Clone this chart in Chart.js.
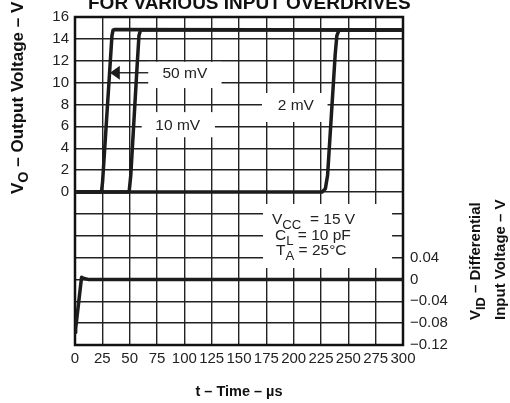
<!DOCTYPE html>
<html>
<head>
<meta charset="utf-8">
<script src="https://cdn.jsdelivr.net/npm/chart.js@4.4.1/dist/chart.umd.min.js"></script>
<style>
	html, body { margin: 0; padding: 0; background: #fff; }
	#wrap { width: 510px; height: 403px; }
</style>
</head>
<body>
<div id="wrap"><canvas id="chart" width="510" height="403"></canvas></div>
<script>
'use strict'
/*----- data (time in µs, VO in V, VID in V) -----*/
const timeTicks = [0, 25, 50, 75, 100, 125, 150, 175, 200, 225, 250, 275, 300];
const voTicks = [0, 2, 4, 6, 8, 10, 12, 14, 16];
const vidTicks = [0.04, 0, -0.04, -0.08, -0.12];

const t50mV = [0, 24.2, 25.2, 33.8, 34.8, 36, 300];
const vo50mV = [0, 0, 0.9, 14.3, 14.8, 14.85, 14.8];

const t10mV = [0, 49.5, 51, 56.5, 58.5, 60, 300];
const vo10mV = [0, 0, 1.5, 11, 14.3, 14.8, 14.8];

const t2mV = [0, 226, 229, 231, 238, 239.5, 241.5, 300];
const vo2mV = [0, 0, 0.3, 1.5, 12.6, 14.3, 14.8, 14.8];

const tVid = [0, 0.6, 6, 7.5, 12, 300];
const vid = [-0.097, -0.09, 0.004, 0.002, 0, 0];

const FONT = '"Liberation Sans", Arial, Helvetica, sans-serif';
const INK = '#1c1c1c';

function pts(xs, ys) {
	return xs.map(function(x, i) { return { x: x, y: ys[i] }; });
}

function line(xs, ys, axis) {
	return {
		data: pts(xs, ys),
		yAxisID: axis,
		borderColor: INK,
		borderWidth: 3.5,
		pointRadius: 0,
		tension: 0,
		fill: false,
		borderJoinStyle: 'round',
		borderCapStyle: 'round'
	};
}

// text with subscript parts: [[text, isSub], ...]
function richText(ctx, parts, x, y, size, bold) {
	var cx = x;
	parts.forEach(function(p) {
		var fs = p[1] ? size * 0.85 : size;
		ctx.font = (bold ? 'bold ' : '') + fs + 'px ' + FONT;
		ctx.fillText(p[0], cx, y + (p[1] ? size * 0.32 : 0));
		cx += ctx.measureText(p[0]).width;
	});
}

/*----- boxes, labels, frame -----*/
const decor = {
	id: 'decor',
	beforeDatasetsDraw: function(chart) {
		var ctx = chart.ctx, xs = chart.scales.x, ys = chart.scales.y, a = chart.chartArea;
		var X = function(v) { return xs.getPixelForValue(v); };
		var Y = function(v) { return ys.getPixelForValue(v); };
		ctx.save();
		ctx.fillStyle = '#fff';
		// white label boxes (data units)
		[[67, 11.9, 134, 9.5], [61, 7.3, 128, 5.0], [171, 9.05, 231, 6.4], [172, -1.1, 290, -6.96]].forEach(function(b) {
			ctx.fillRect(X(b[0]), Y(b[1]), X(b[2]) - X(b[0]), Y(b[3]) - Y(b[1]));
		});
		// frame
		ctx.strokeStyle = '#111';
		ctx.lineWidth = 2.5;
		ctx.strokeRect(a.left, a.top, a.right - a.left, a.bottom - a.top);
		// arrow to 50 mV trace
		ctx.lineWidth = 1.3;
		ctx.beginPath();
		ctx.moveTo(X(67), Y(10.9));
		ctx.lineTo(X(40), Y(10.9));
		ctx.stroke();
		ctx.fillStyle = INK;
		ctx.beginPath();
		ctx.moveTo(X(32), Y(10.9));
		ctx.lineTo(X(41), Y(10.9) - 7);
		ctx.lineTo(X(41), Y(10.9) + 7);
		ctx.closePath();
		ctx.fill();
		// labels
		ctx.fillStyle = '#222';
		ctx.textBaseline = 'middle';
		ctx.textAlign = 'center';
		ctx.font = '15.5px ' + FONT;
		ctx.fillText('50 mV', X(100.5), Y(10.85));
		ctx.fillText('10 mV', X(94), Y(6.1));
		ctx.fillText('2 mV', X(202), Y(7.9));
		ctx.textAlign = 'left';
		ctx.textBaseline = 'alphabetic';
		richText(ctx, [['V', 0], ['CC', 1], ['  = 15 V', 0]], 272, 224, 15.5, false);
		richText(ctx, [['C', 0], ['L', 1], [' = 10 pF', 0]], 275, 240, 15.5, false);
		richText(ctx, [['T', 0], ['A', 1], [' = 25°C', 0]], 276, 255, 15.5, false);
		ctx.restore();
	},
	afterDraw: function(chart) {
		var ctx = chart.ctx;
		ctx.save();
		ctx.fillStyle = '#111';
		ctx.textAlign = 'left';
		ctx.textBaseline = 'alphabetic';
		// main title (cut at the top edge, as in the source)
		ctx.font = 'bold 19px ' + FONT;
		ctx.fillText('FOR VARIOUS INPUT OVERDRIVES', 88, 9);
		// left axis title
		ctx.save();
		ctx.translate(23, 194);
		ctx.rotate(-Math.PI / 2);
		richText(ctx, [['V', 0], ['O', 1], [' – Output Voltage – V', 0]], 0, 0, 17, true);
		ctx.restore();
		// right axis title
		ctx.save();
		ctx.translate(480, 320);
		ctx.rotate(-Math.PI / 2);
		richText(ctx, [['V', 0], ['ID', 1], [' – Differential', 0]], 0, 0, 15, true);
		ctx.restore();
		ctx.save();
		ctx.translate(505, 320);
		ctx.rotate(-Math.PI / 2);
		richText(ctx, [['Input Voltage – V', 0]], 0, 0, 15, true);
		ctx.restore();
		ctx.restore();
	}
};

function fmtVid(v) {
	if (Math.abs(v) < 1e-9) return '0';
	var s = Math.abs(v).toFixed(2);
	return (v < 0 ? '\u2212' : '') + s;
}

var ctx = document.getElementById('chart');
var myChart = new Chart(ctx, {
	type: 'line',
	data: {
		datasets: [
			line(t50mV, vo50mV, 'y'),
			line(t10mV, vo10mV, 'y'),
			line(t2mV, vo2mV, 'y'),
			line(tVid, vid, 'y2')
		]
	},
	options: {
		responsive: false,
		animation: false,
		devicePixelRatio: 1,
		layout: { padding: { top: 17 } },
		plugins: { legend: { display: false }, tooltip: { enabled: false } },
		scales: {
			x: {
				type: 'linear',
				min: 0,
				max: 300,
				afterFit: function(s) { s.height = 58; },
				grid: { color: '#222', lineWidth: 1.4, drawTicks: false },
				border: { display: false },
				ticks: {
					stepSize: 25,
					autoSkip: false,
					maxRotation: 0,
					padding: 5,
					color: '#222',
					font: { size: 15, family: FONT },
					callback: function(v) { return timeTicks.indexOf(v) >= 0 ? String(v) : ''; }
				},
				title: {
					display: true,
					text: 't – Time – µs',
					color: '#111',
					font: { size: 14.5, weight: 'bold', family: FONT },
					padding: { top: 0, bottom: 2 }
				}
			},
			y: {
				position: 'left',
				min: -14,
				max: 16,
				afterFit: function(s) { s.width = 75; },
				grid: { color: '#222', lineWidth: 1.4, drawTicks: false },
				border: { display: false },
				ticks: {
					stepSize: 2,
					autoSkip: false,
					padding: 6,
					color: '#222',
					font: { size: 15, family: FONT },
					callback: function(v) { return voTicks.indexOf(v) >= 0 ? String(v) : ''; }
				}
			},
			y2: {
				position: 'right',
				min: -0.12,
				max: 0.48,
				afterFit: function(s) { s.width = 107; },
				grid: { display: false, drawTicks: false },
				border: { display: false },
				ticks: {
					stepSize: 0.04,
					autoSkip: false,
					padding: 7,
					color: '#222',
					font: { size: 15, family: FONT },
					callback: function(v) {
						var hit = vidTicks.some(function(t) { return Math.abs(t - v) < 1e-6; });
						return hit ? fmtVid(v) : '';
					}
				}
			}
		}
	},
	plugins: [decor]
});
</script>
</body>
</html>
